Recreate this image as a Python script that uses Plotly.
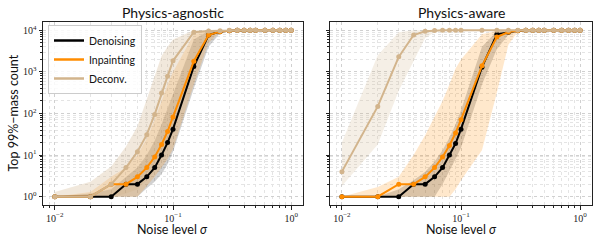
import plotly.graph_objects as go

# ---------------- data ----------------
sigma = [0.01, 0.02, 0.03, 0.04, 0.05, 0.06, 0.07, 0.08, 0.09, 0.1,
         0.15, 0.2, 0.25, 0.3, 0.35, 0.4, 0.45, 0.5, 0.6, 0.7, 0.8, 0.9, 1.0]

# Physics-agnostic
den_L    = [1, 1, 1, 2, 2, 3, 5, 10, 20, 42, 1350, 7700, 9300, 9800, 10000, 10000] + [10000] * 7
den_L_lo = [1, 1, 1, 1, 1, 1.6, 2.3, 3.5, 6, 12, 400, 4000, 8500, 9600, 9900, 10000] + [10000] * 7
den_L_hi = [1, 1.2, 1.5, 3, 5, 10, 22, 55, 130, 300, 6000, 9800, 10000, 10000, 10000, 10000] + [10000] * 7
inp_L    = [1, 1, 2, 2, 3, 5, 9, 18, 37, 82, 1800, 7700, 9300, 9800, 10000, 10000] + [10000] * 7
inp_L_lo = [1, 1, 1, 1, 1, 1.8, 3, 5, 8, 14, 500, 5000, 9000, 9700, 9900, 10000] + [10000] * 7
inp_L_hi = [1, 1.3, 3, 5, 10, 25, 70, 200, 500, 1000, 8000, 9900, 10000, 10000, 10000, 10000] + [10000] * 7
dec_L    = [1, 1, 2, 5, 12, 31, 95, 312, 790, 1850, 9000, 9600, 9800, 10000, 10000, 10000] + [10000] * 7
dec_L_lo = [1, 1, 1, 1.2, 1.5, 2.5, 4, 8, 15, 35, 2000, 8000, 9300, 9700, 9900, 10000] + [10000] * 7
dec_L_hi = [1.3, 2.3, 5.3, 16, 49, 215, 790, 2400, 4000, 6000, 10000, 10000, 10000, 10000, 10000, 10000] + [10000] * 7

# Physics-aware
den_R    = [1, 1, 1, 2, 2, 3, 5, 10, 19, 42, 1300, 8000, 9000, 9800, 10000, 10000] + [10000] * 7
den_R_lo = [1, 1, 1, 1, 1, 1, 2, 4, 8, 15, 500, 3500, 7800, 9400, 9800, 10000] + [10000] * 7
den_R_hi = [1, 1, 1.5, 2.5, 4, 7, 13, 26, 55, 120, 4000, 9500, 9900, 10000, 10000, 10000] + [10000] * 7
inp_R    = [1, 1, 2, 2, 3, 5, 9, 17, 34, 71, 1400, 6900, 9100, 9800, 10000, 10000] + [10000] * 7
inp_R_lo = [1, 1, 1, 1, 1, 1, 1, 1, 1.5, 2.5, 13, 315, 4500, 9300, 9800, 10000] + [10000] * 7
inp_R_hi = [1, 1.7, 3, 10, 30, 80, 200, 500, 1200, 2000, 8000, 9800, 10000, 10000, 10000, 10000] + [10000] * 7
dec_R    = [4, 148, 2300, 7700, 9500, 9900, 10000, 10000, 10000, 10000, 10000, 10000, 10000, 10000, 10000, 10000] + [10000] * 7
dec_R_lo = [1.8, 18, 350, 1800, 6500, 9000, 9700, 9900, 10000, 10000, 10000, 10000, 10000, 10000, 10000, 10000] + [10000] * 7
dec_R_hi = [20, 2500, 9000, 10000, 10000, 10000, 10000, 10000, 10000, 10000, 10000, 10000, 10000, 10000, 10000, 10000] + [10000] * 7

names = ["Denoising", "Inpainting", "Deconv."]
line_colors = ["#000000", "#FF8C00", "#D2B48C"]
fill_colors = ["rgba(0,0,0,0.18)", "rgba(255,140,0,0.2)", "rgba(210,180,140,0.3)"]
fill_colors_R = ["rgba(0,0,0,0.18)", "rgba(255,140,0,0.2)", "rgba(210,180,140,0.22)"]
titles = ["Physics-agnostic", "Physics-aware"]
x_label = "Noise level <i>σ</i>"
y_label = "Top 99%−mass count"

x_ticks = [0.01, 0.1, 1.0]
x_ticktext = ["10<sup>−2</sup>", "10<sup>−1</sup>", "10<sup>0</sup>"]
y_ticks = [1, 10, 100, 1000, 10000]
y_ticktext = ["10<sup>0</sup>", "10<sup>1</sup>", "10<sup>2</sup>", "10<sup>3</sup>", "10<sup>4</sup>"]

panels = [
    [(den_L, den_L_lo, den_L_hi), (inp_L, inp_L_lo, inp_L_hi), (dec_L, dec_L_lo, dec_L_hi)],
    [(den_R, den_R_lo, den_R_hi), (inp_R, inp_R_lo, inp_R_hi), (dec_R, dec_R_lo, dec_R_hi)],
]

# ---------------- figure ----------------
W, H = 598, 242
fig = go.Figure()

axes = [("x", "y"), ("x2", "y2")]
for p, series in enumerate(panels):
    xa, ya = axes[p]
    fcols = fill_colors if p == 0 else fill_colors_R
    for k, (m, lo, hi) in enumerate(series):
        fig.add_trace(go.Scatter(x=sigma, y=hi, mode="lines", line=dict(width=0),
                                 xaxis=xa, yaxis=ya, showlegend=False, hoverinfo="skip"))
        fig.add_trace(go.Scatter(x=sigma, y=lo, mode="lines", line=dict(width=0),
                                 fill="tonexty", fillcolor=fcols[k],
                                 xaxis=xa, yaxis=ya, showlegend=False, hoverinfo="skip"))
    for k, (m, lo, hi) in enumerate(series):
        fig.add_trace(go.Scatter(x=sigma, y=m, mode="lines+markers",
                                 line=dict(color=line_colors[k], width=2),
                                 marker=dict(color=line_colors[k], size=5),
                                 xaxis=xa, yaxis=ya, showlegend=False))

for k in range(3):
    fig.add_trace(go.Scatter(x=[None], y=[None], mode="lines", name=names[k],
                             line=dict(color=line_colors[k], width=2.5),
                             xaxis="x", yaxis="y", showlegend=True))

def minor_vals(lo_exp, hi_exp):
    v = []
    for e in range(lo_exp, hi_exp + 1):
        for d in range(2, 10):
            v.append(d * 10 ** e)
    return v

tick_font = dict(family="Liberation Serif, DejaVu Serif, serif", size=10, color="#222")
sans = "Lato, DejaVu Sans, sans-serif"

common_x = dict(type="log", range=[-2.1, 0.1], tickmode="array", tickvals=x_ticks,
                ticktext=x_ticktext, ticks="outside", ticklen=3.5, tickwidth=0.8,
                tickcolor="#222", showline=True, linecolor="#222", linewidth=1, mirror=True,
                showgrid=True, gridcolor="#d0d0d0", griddash="dot", gridwidth=0.8,
                tickfont=tick_font, zeroline=False,
                minor=dict(tickmode="array", tickvals=minor_vals(-3, 0), ticks="outside",
                           ticklen=2, tickcolor="#222", showgrid=True,
                           gridcolor="#e4e4e4", griddash="dot", gridwidth=0.6))
common_y = dict(type="log", range=[-0.2, 4.2], tickmode="array", tickvals=y_ticks,
                ticktext=y_ticktext, ticks="outside", ticklen=3.5, tickwidth=0.8,
                tickcolor="#222", showline=True, linecolor="#222", linewidth=1, mirror=True,
                showgrid=True, gridcolor="#d0d0d0", griddash="dot", gridwidth=0.8,
                tickfont=tick_font, zeroline=False,
                minor=dict(tickmode="array", tickvals=minor_vals(0, 4), ticks="outside",
                           ticklen=2, tickcolor="#222", showgrid=True,
                           gridcolor="#e4e4e4", griddash="dot", gridwidth=0.6))

dom_x1 = [43 / W, 303 / W]
dom_x2 = [330 / W, 592 / W]
dom_y = [1 - 205 / H, 1 - 22 / H]

ann = []
for d, t in zip([dom_x1, dom_x2], titles):
    ann.append(dict(text=t, x=(d[0] + d[1]) / 2, y=1 - 12 / H, xref="paper", yref="paper",
                    showarrow=False, font=dict(family=sans, size=14, color="#111"),
                    xanchor="center", yanchor="middle"))
    ann.append(dict(text=x_label, x=(d[0] + d[1]) / 2, y=1 - 229 / H, xref="paper", yref="paper",
                    showarrow=False, font=dict(family=sans, size=12.5, color="#111"),
                    xanchor="center", yanchor="middle"))
ann.append(dict(text=y_label, x=13 / W, y=(dom_y[0] + dom_y[1]) / 2, xref="paper", yref="paper",
                showarrow=False, textangle=-90, font=dict(family=sans, size=12.5, color="#111"),
                xanchor="center", yanchor="middle"))

fig.update_layout(
    width=W, height=H,
    margin=dict(l=0, r=0, t=0, b=0),
    paper_bgcolor="white", plot_bgcolor="white",
    xaxis=dict(common_x, domain=dom_x1, anchor="y"),
    yaxis=dict(common_y, domain=dom_y, anchor="x"),
    xaxis2=dict(common_x, domain=dom_x2, anchor="y2"),
    yaxis2=dict(common_y, domain=dom_y, anchor="x2", showticklabels=False),
    legend=dict(x=48 / W, y=1 - 25 / H, xanchor="left", yanchor="top",
                traceorder="normal",
                bgcolor="rgba(255,255,255,0.85)", bordercolor="#cccccc", borderwidth=1,
                font=dict(family=sans, size=10.5, color="#111"),
                tracegroupgap=0, itemwidth=30),
    showlegend=True,
    annotations=ann,
)

fig.write_html("out.html", config={"displayModeBar": False},
               post_script="document.body.style.margin='0';document.body.style.overflow='hidden';")
